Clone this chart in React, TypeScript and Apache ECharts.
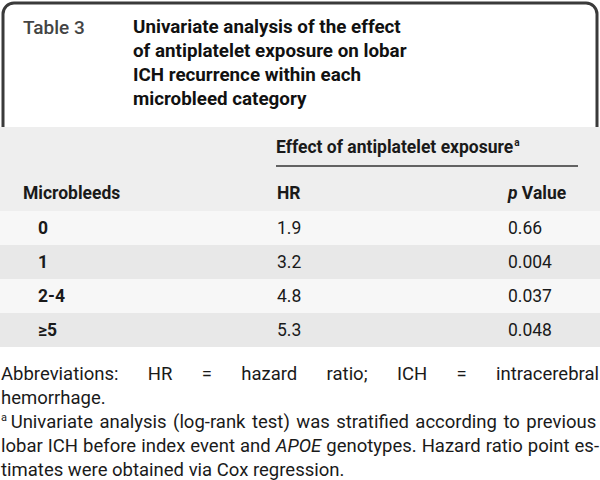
import React, { useEffect, useRef } from "react";
import * as echarts from "echarts";

const tableLabel = "Table 3";
const titleLines = [
  "Univariate analysis of the effect",
  "of antiplatelet exposure on lobar",
  "ICH recurrence within each",
  "microbleed category",
];
const groupHeader = "Effect of antiplatelet exposure";
const columnHeaders = ["Microbleeds", "HR", "Value"];
const categories = ["0", "1", "2-4", "\u22655"];
const hrValues = [1.9, 3.2, 4.8, 5.3];
const pValues = [0.66, 0.004, 0.037, 0.048];

type Tok = { t: string; it?: boolean; sup?: boolean };
const footLines: { toks: Tok[]; justify: boolean }[] = [
  {
    toks: ["Abbreviations:", "HR", "=", "hazard", "ratio;", "ICH", "=", "intracerebral"].map((t) => ({ t })),
    justify: true,
  },
  { toks: [{ t: "hemorrhage." }], justify: false },
  {
    toks: [
      { t: "a", sup: true },
      ..."Univariate analysis (log-rank test) was stratified according to previous".split(" ").map((t) => ({ t })),
    ],
    justify: true,
  },
  {
    toks: "lobar ICH before index event and APOE genotypes. Hazard ratio point es-"
      .split(" ")
      .map((t) => ({ t, it: t === "APOE" })),
    justify: true,
  },
  { toks: "timates were obtained via Cox regression.".split(" ").map((t) => ({ t })), justify: false },
];

const FONT = "Roboto";

export default function App() {
  const ref = useRef<HTMLDivElement>(null);
  useEffect(() => {
    if (!ref.current) return;
    const chart = echarts.init(ref.current, null, { renderer: "svg" });
    const canvas = document.createElement("canvas");
    const ctx = canvas.getContext("2d")!;
    const measure = (s: string, size: number, weight: any = "normal", style = "normal") => {
      ctx.font = `${style} ${weight} ${size}px ${FONT}`;
      return ctx.measureText(s).width;
    };

    const els: any[] = [];
    const txt = (x: number, y: number, text: string, o: any = {}) => {
      els.push({
        type: "text",
        x,
        y,
        style: {
          text,
          fill: o.fill || "#1a1a1a",
          fontFamily: FONT,
          fontSize: o.size || 17.5,
          fontWeight: o.weight || "normal",
          fontStyle: o.style || "normal",
          textAlign: o.align || "left",
          textVerticalAlign: "middle",
        },
      });
    };

    // top box border
    els.push({
      type: "rect",
      shape: { x: 3, y: 3, width: 594, height: 150, r: [11, 11, 0, 0] },
      style: { fill: "#fff", stroke: "#3a3a3a", lineWidth: 3 },
    });
    // header background
    els.push({ type: "rect", shape: { x: 0, y: 127, width: 600, height: 84 }, style: { fill: "#eeeeee" } });
    // row bands
    categories.forEach((_, i) => {
      els.push({
        type: "rect",
        shape: { x: 0, y: 211 + i * 34, width: 600, height: 34 },
        style: { fill: i % 2 === 0 ? "#f7f7f7" : "#e8e8e8" },
      });
    });

    txt(23, 27, tableLabel, { size: 19, fill: "#444", weight: 500 });
    titleLines.forEach((l, i) => txt(133, 27 + i * 24, l, { size: 18.8, weight: "bold", fill: "#111" }));

    // group header
    txt(276, 147, groupHeader, { size: 17.5, weight: "bold" });
    const gw = measure(groupHeader, 17.5, "bold");
    txt(276 + gw + 1, 142, "a", { size: 10, weight: "bold" });
    els.push({
      type: "line",
      shape: { x1: 276, y1: 166, x2: 578, y2: 166 },
      style: { stroke: "#333", lineWidth: 1.5 },
    });

    txt(23, 193, columnHeaders[0], { weight: "bold" });
    txt(277, 193, columnHeaders[1], { weight: "bold" });
    txt(508, 193, "p", { weight: "bold", style: "italic" });
    const pw = measure("p ", 17.5, "bold", "italic");
    txt(508 + pw, 193, columnHeaders[2], { weight: "bold" });

    categories.forEach((c, i) => {
      const y = 228 + i * 34;
      txt(38, y, c, { weight: "bold" });
      txt(277, y, hrValues[i].toFixed(1));
      txt(508, y, String(pValues[i]));
    });

    // footnote
    const FS = 18.5;
    const W = 598;
    footLines.forEach((line, li) => {
      const y = 374 + li * 24;
      const widths = line.toks.map((tk) =>
        measure(tk.t, tk.sup ? 11 : FS, "normal", tk.it ? "italic" : "normal")
      );
      const total = widths.reduce((a, b) => a + b, 0);
      const space = measure(" ", FS);
      const n = line.toks.length;
      const gap = line.justify && n > 1 ? (W - total) / (n - 1) : space;
      let x = 1;
      line.toks.forEach((tk, k) => {
        if (tk.sup) {
          txt(x, y - 5, tk.t, { size: 11 });
        } else {
          txt(x, y, tk.t, { size: FS, style: tk.it ? "italic" : "normal" });
        }
        x += widths[k] + (tk.sup ? space * 0.8 : gap);
      });
    });

    chart.setOption({
      animation: false,
      backgroundColor: "#fff",
      graphic: { elements: els },
    });
    return () => chart.dispose();
  }, []);
  return (
    <div
      ref={ref}
      style={{ position: "fixed", left: 0, top: 0, width: 600, height: 480 }}
    />
  );
}
